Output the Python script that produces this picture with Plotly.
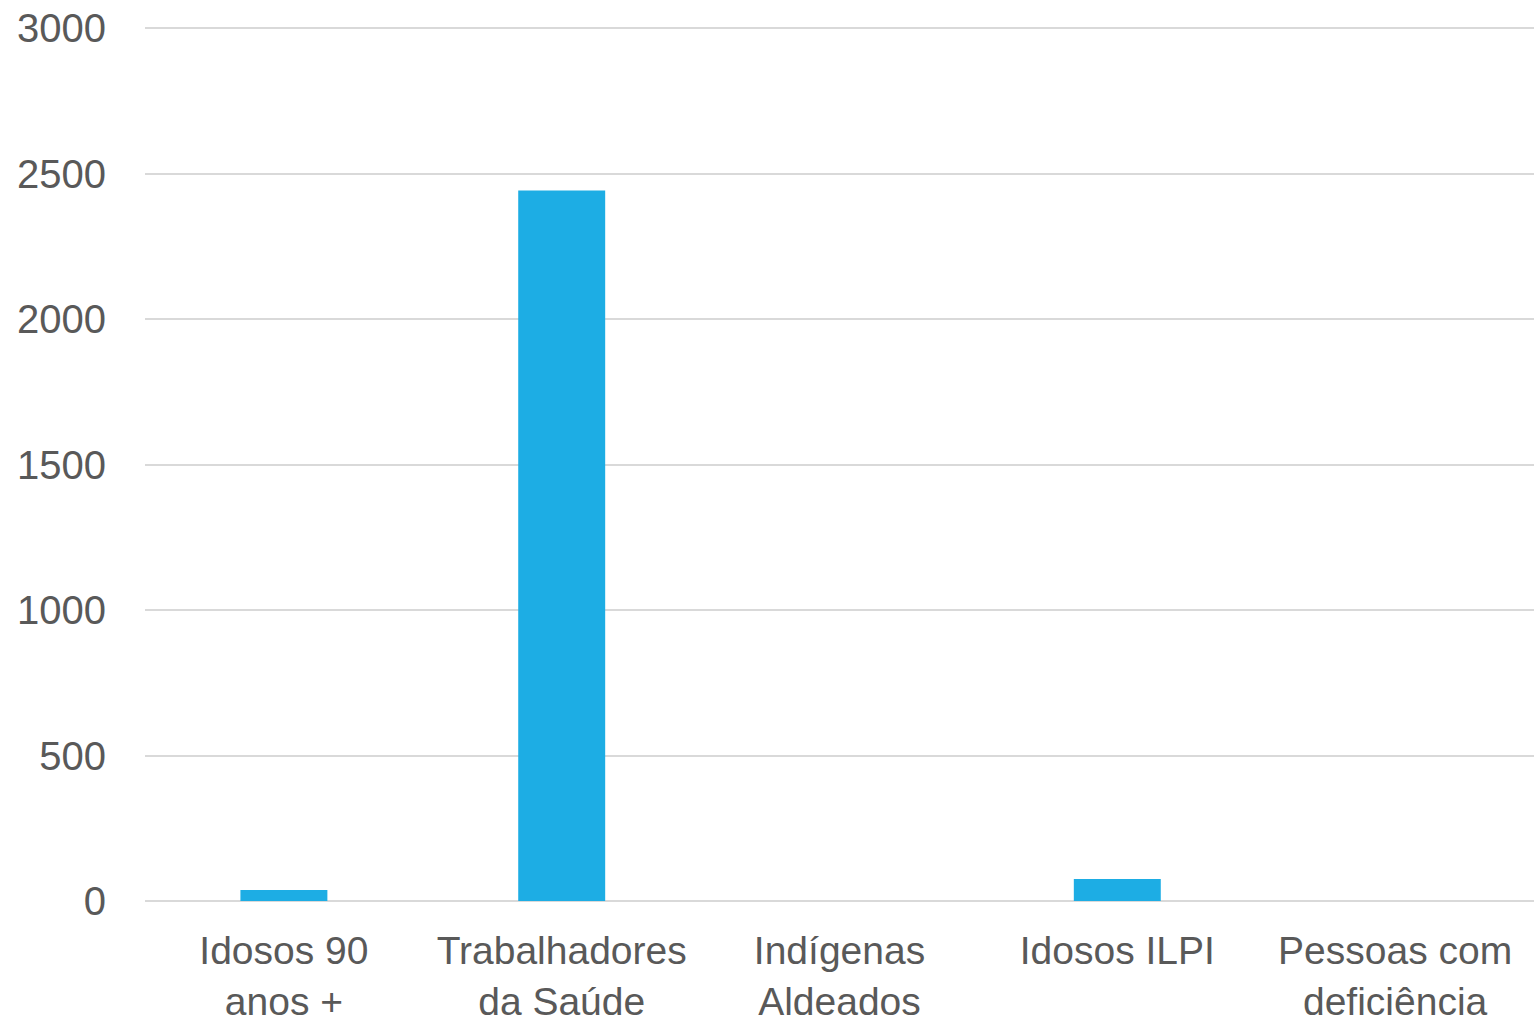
import plotly.graph_objects as go

categories = ["Idosos 90<br>anos +", "Trabalhadores<br>da Saúde", "Indígenas<br>Aldeados", "Idosos ILPI", "Pessoas com<br>deficiência"]
values = [38, 2442, 0, 76, 0]
y_ticks = [0, 500, 1000, 1500, 2000, 2500, 3000]

fig = go.Figure(go.Bar(x=categories, y=values, marker=dict(color="#1DADE4", line=dict(width=0))))

fig.update_layout(
    width=1534, height=1020,
    margin=dict(l=145, r=0, t=27, b=119),
    plot_bgcolor="white", paper_bgcolor="white",
    bargap=0.687,
    showlegend=False,
    font=dict(family="Liberation Sans, Arial, sans-serif", size=40, color="#595959"),
)
fig.update_yaxes(range=[0, 3004], tickvals=y_ticks, showgrid=True, gridcolor="#D9D9D9", gridwidth=2,
                 zeroline=True, zerolinecolor="#D9D9D9", zerolinewidth=2, showline=False,
                 ticks="", ticklabelstandoff=38, automargin=False)
fig.update_xaxes(showgrid=False, showline=False, ticks="", ticklabelstandoff=23, automargin=False,
                 tickfont=dict(size=39))

post = """
document.body.style.margin='0';
document.body.style.overflow='hidden';
var gd=document.getElementById('{plot_id}');
Plotly.relayout(gd,{width:1534,height:1020});
"""
fig.write_html("out.html", post_script=post, config={"displayModeBar": False})
